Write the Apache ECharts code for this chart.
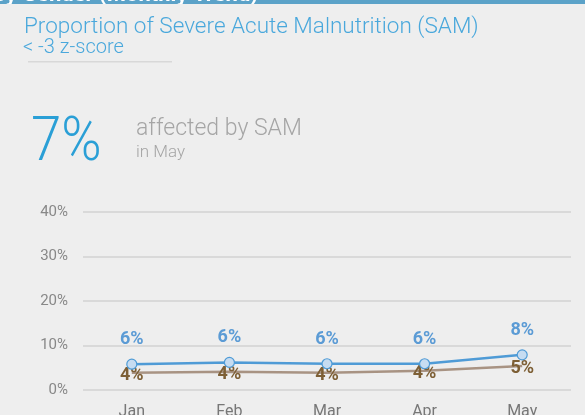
<!DOCTYPE html>
<html>
<head>
<meta charset="utf-8">
<script src="https://cdn.jsdelivr.net/npm/echarts@6/dist/echarts.min.js"></script>
<style>
  html, body { margin: 0; padding: 0; background: #eeeeee; }
  #samTrend { width: 585px; height: 415px; }
</style>
</head>
<body>
<div id="samTrend"></div>
<script>
// months and values (%)
var months = ['Jan', 'Feb', 'Mar', 'Apr', 'May'];
var samBlue = [5.8, 6.2, 5.9, 5.9, 7.9];
var samBrown = [3.85, 4.1, 3.85, 4.3, 5.4];
var yTicks = [0, 10, 20, 30, 40];
var headline = '7%';

var myChart = echarts.init(document.getElementById('samTrend'));
var fontName = 'Roboto, "Noto Sans", sans-serif';

// 百分比标签
function pctLabel(p) {
    return Math.round(p.value) + '%';
}

option = {
    backgroundColor: '#eeeeee',
    animation: false,
    graphic: [
        // banner at the top (cut off)
        { type: 'rect', z: 1, shape: { x: 0, y: 0, width: 585, height: 4 }, style: { fill: '#5ba2c8' } },
        { type: 'text', z: 2, x: 258, y: -16, style: { text: 'SAM by Gender (Monthly Trend)', fill: '#ffffff',
            font: 'bold 22px ' + fontName, align: 'right', verticalAlign: 'top' } },
        { type: 'rect', z: 3, shape: { x: 0, y: 4, width: 585, height: 8 }, style: { fill: '#eeeeee' } },
        { type: 'text', z: 2, x: 24, y: 16, style: { text: 'Proportion of Severe Acute Malnutrition (SAM)', fill: '#4aa8dc',
            font: '300 22.5px ' + fontName } },
        { type: 'text', z: 2, x: 23, y: 38, style: { text: '< -3 z-score', fill: '#4aa8dc',
            font: '300 20px ' + fontName } },
        { type: 'rect', z: 2, shape: { x: 28, y: 61, width: 144, height: 1.5 }, style: { fill: '#d8d8d8' } },
        { type: 'text', z: 2, x: 31, y: 113, scaleX: 0.88, style: { text: headline, fill: '#2a9fd6',
            font: '300 62px ' + fontName } },
        { type: 'text', z: 2, x: 136, y: 118, style: { text: 'affected by SAM', fill: '#a5a5a5',
            font: '300 23px ' + fontName } },
        { type: 'text', z: 2, x: 136, y: 144, style: { text: 'in May', fill: '#a5a5a5',
            font: '300 17px ' + fontName } }
    ],
    grid: {
        left: 83,
        right: 14,
        top: 212,
        bottom: 25,
        outerBoundsMode: 'none'
    },
    xAxis: {
        type: 'category',
        boundaryGap: true,
        data: months,
        axisLine: { show: false },
        axisTick: { show: false },
        axisLabel: { color: '#777777', fontSize: 16, margin: 14, fontFamily: fontName }
    },
    yAxis: {
        type: 'value',
        min: yTicks[0],
        max: yTicks[yTicks.length - 1],
        interval: 10,
        axisLine: { show: false },
        axisTick: { show: false },
        splitLine: { lineStyle: { color: '#d9d9d9', width: 2 } },
        axisLabel: { color: '#888888', fontSize: 15, margin: 15, fontFamily: fontName,
            formatter: '{value}%' }
    },
    series: [
        {
            name: 'brown',
            type: 'line',
            data: samBrown,
            symbol: 'circle',
            symbolSize: 1,
            itemStyle: { color: 'rgba(0,0,0,0)' },
            lineStyle: { color: '#a89383', width: 2.5 },
            label: {
                show: true,
                position: 'inside',
                offset: [0, 3],
                color: '#7d5f35',
                fontSize: 18,
                fontWeight: 'bold',
                fontFamily: fontName,
                formatter: pctLabel
            },
            z: 2
        },
        {
            name: 'blue',
            type: 'line',
            data: samBlue,
            symbol: 'circle',
            symbolSize: 10,
            itemStyle: { color: '#c6dcf1', borderColor: '#4f9bd6', borderWidth: 1.2 },
            lineStyle: { color: '#4f9bd6', width: 2.5 },
            label: {
                show: true,
                position: 'top',
                distance: 10,
                color: '#5b9bd5',
                fontSize: 18,
                fontWeight: 'bold',
                fontFamily: fontName,
                formatter: pctLabel
            },
            z: 3
        }
    ]
};
myChart.setOption(option);
</script>
</body>
</html>
